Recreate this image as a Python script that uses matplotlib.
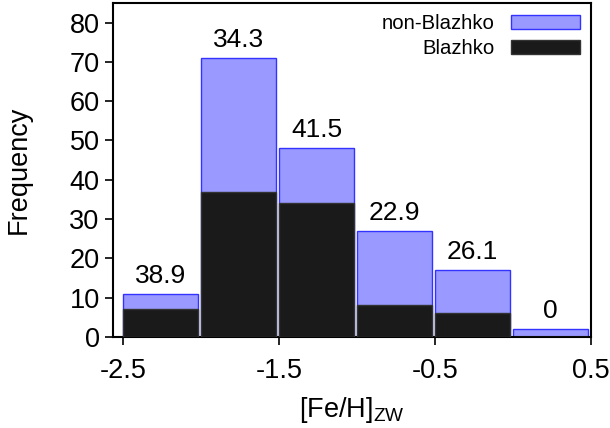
import numpy as np
import matplotlib
matplotlib.use("Agg")
import matplotlib.pyplot as plt

plt.rcParams["font.family"] = ["Liberation Sans", "DejaVu Sans"]

# bin left edges of [Fe/H]_ZW
bin_edges = [-2.5, -2.0, -1.5, -1.0, -0.5, 0.0]
non_blazhko = [11, 71, 48, 27, 17, 2]
blazhko = [7, 37, 34, 8, 6, 0]
pct_labels = ["38.9", "34.3", "41.5", "22.9", "26.1", "0"]

fig = plt.figure(figsize=(6.1, 4.28), dpi=100)
ax = fig.add_axes([0.185, 0.213, 0.784, 0.780])

w = 0.48
ax.bar(bin_edges, non_blazhko, width=w, align="edge", color="#9999ff",
       edgecolor="#3333ff", linewidth=1.0, label="non-Blazhko", zorder=2)
ax.bar(bin_edges, blazhko, width=w, align="edge", color="#1a1a1a",
       edgecolor="#333333", linewidth=1.0, label="Blazhko", zorder=3)

for x, h, t in zip(bin_edges, non_blazhko, pct_labels):
    ax.text(x + w / 2, h + 1.5, t, ha="center", va="bottom", fontsize=19)

ax.set_xlim(-2.565, 0.5)
ax.set_ylim(0, 85)
ax.set_xticks([-2.5, -1.5, -0.5, 0.5])
ax.set_xticklabels(["-2.5", "-1.5", "-0.5", "0.5"])
ax.set_yticks(np.arange(0, 90, 10))
ax.tick_params(axis="both", labelsize=19.5, direction="out", length=6, width=1.2)
ax.tick_params(axis="x", pad=9)
ax.tick_params(right=False, top=False)
for s in ax.spines.values():
    s.set_linewidth(1.5)

ax.set_xlabel("[Fe/H]$_{\\mathregular{ZW}}$", fontsize=19.5, labelpad=8)
ax.set_ylabel("Frequency", fontsize=19.5, labelpad=27)

ax.legend(loc="upper right", frameon=False, fontsize=14.6, markerfirst=False,
          handlelength=3.4, handleheight=0.7, labelspacing=0.3,
          borderpad=0.0, borderaxespad=0.55, handletextpad=0.8)

fig.savefig("out.png", dpi=100)
